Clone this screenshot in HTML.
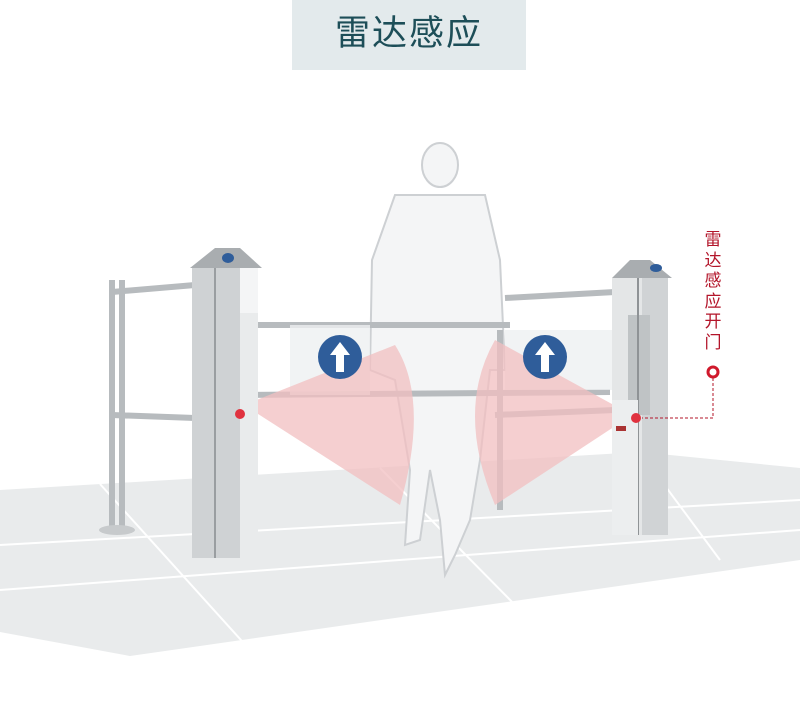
<!DOCTYPE html>
<html><head><meta charset="utf-8"><style>
body{margin:0;width:800px;height:726px;background:#fff;overflow:hidden;font-family:"Liberation Sans","Noto Sans CJK SC",sans-serif}
.t{position:absolute;left:292px;top:0;width:234px;height:70px;background:#e3eaec;color:#1d4e58;font-size:35px;text-align:center;line-height:68px;letter-spacing:2px}
.v{position:absolute;left:702px;top:230px;width:22px;color:#b3152a;font-size:17px;line-height:20.5px;text-align:center}
</style></head><body>
<svg width="800" height="726" style="position:absolute;left:0;top:0">
<polygon points="0,490 640,452 800,468 800,560 130,656 0,632" fill="#e9ebec"/>
<g stroke="#fff" stroke-width="2" fill="none">
<line x1="0" y1="545" x2="800" y2="500"/><line x1="0" y1="590" x2="800" y2="530"/>
<line x1="100" y1="484" x2="250" y2="650"/><line x1="380" y1="468" x2="520" y2="610"/><line x1="640" y1="452" x2="720" y2="560"/>
</g>
<!-- person -->
<g fill="#f4f5f6" stroke="#cdd0d3" stroke-width="2">
<path d="M395 195 L485 195 L500 260 L505 370 L490 370 L480 460 L470 520 L455 555 L445 575 L440 520 L430 470 L420 540 L405 545 L410 470 L395 380 L370 370 L372 260 Z"/>
<ellipse cx="440" cy="165" rx="18" ry="22"/>
</g>
<!-- rails -->
<g stroke="#b7bbbe" stroke-width="6" fill="none">
<line x1="112" y1="292" x2="195" y2="285"/><line x1="112" y1="415" x2="195" y2="418"/>
<line x1="112" y1="280" x2="112" y2="530"/><line x1="122" y1="280" x2="122" y2="530"/>
<line x1="240" y1="325" x2="510" y2="325"/><line x1="240" y1="395" x2="610" y2="392"/>
<line x1="505" y1="298" x2="615" y2="292"/><line x1="495" y1="415" x2="615" y2="410"/>
<line x1="500" y1="330" x2="500" y2="510"/>
</g>
<ellipse cx="117" cy="530" rx="18" ry="5" fill="#c7cacc"/>
<rect x="290" y="325" width="80" height="70" fill="#eef0f1" opacity=".8"/>
<rect x="505" y="330" width="110" height="60" fill="#eef0f1" opacity=".8"/>
<!-- red fans -->
<path d="M244 405 L395 345 Q430 400 400 505 Z" fill="#f2bfc0" opacity=".75"/>
<path d="M632 415 L495 340 Q455 410 495 505 Z" fill="#f2bfc0" opacity=".75"/>
<!-- blue signs -->
<circle cx="340" cy="357" r="22" fill="#2f5d9a"/><path d="M340 342 L330 355 L336 355 L336 372 L344 372 L344 355 L350 355 Z" fill="#fff"/>
<circle cx="545" cy="357" r="22" fill="#2f5d9a"/><path d="M545 342 L535 355 L541 355 L541 372 L549 372 L549 355 L555 355 Z" fill="#fff"/>
<!-- left post -->
<polygon points="190,268 215,248 240,248 262,268" fill="#a9adb0"/>
<ellipse cx="228" cy="258" rx="6" ry="5" fill="#2f5d9a"/>
<rect x="192" y="268" width="48" height="290" fill="#cfd2d4"/>
<rect x="240" y="268" width="18" height="290" fill="#e9ebec"/>
<line x1="215" y1="268" x2="215" y2="558" stroke="#9a9ea1" stroke-width="2"/>
<rect x="240" y="268" width="18" height="45" fill="#f4f5f6"/>
<!-- right post -->
<polygon points="612,278 630,260 650,260 672,278" fill="#a9adb0"/>
<ellipse cx="656" cy="268" rx="6" ry="4" fill="#2f5d9a"/>
<rect x="612" y="278" width="30" height="257" fill="#e4e6e7"/>
<rect x="642" y="278" width="26" height="257" fill="#d0d3d5"/>
<rect x="628" y="315" width="22" height="100" fill="#bfc3c5"/>
<line x1="638" y1="278" x2="638" y2="535" stroke="#8f9396" stroke-width="2"/>
<rect x="612" y="400" width="26" height="135" fill="#eceeef"/>
<rect x="616" y="426" width="10" height="5" fill="#a33"/>
<!-- red dots -->
<circle cx="240" cy="414" r="5" fill="#e0323f"/>
<circle cx="636" cy="418" r="5" fill="#e0323f"/>
<circle cx="713" cy="372" r="5" fill="none" stroke="#d0192c" stroke-width="3"/>
<path d="M713 378 L713 418 L642 418" fill="none" stroke="#b3152a" stroke-width="1" stroke-dasharray="3,2"/>
</svg>
<div class="t">雷达感应</div>
<div class="v">雷达感应开门</div>
</body></html>
